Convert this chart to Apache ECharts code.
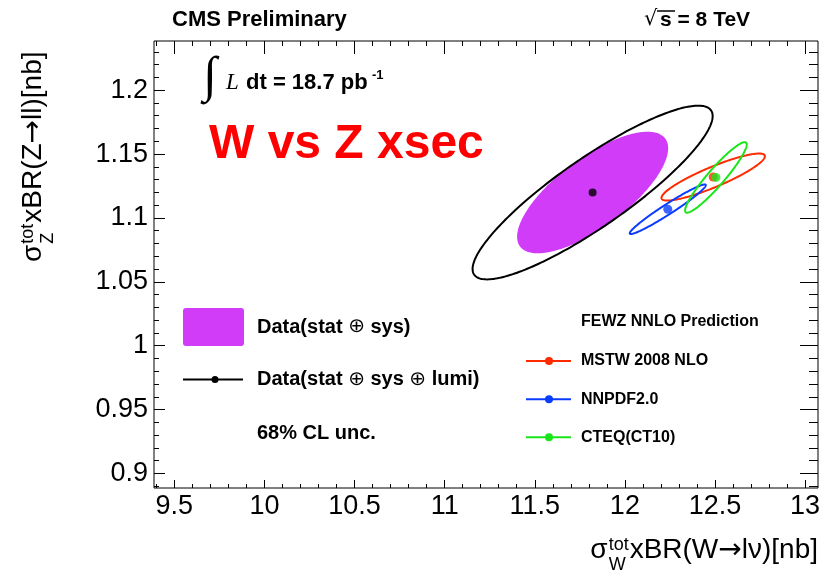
<!DOCTYPE html>
<html>
<head>
<meta charset="utf-8">
<script src="https://cdn.jsdelivr.net/npm/echarts@6/dist/echarts.min.js"></script>
<style>
  html, body { margin: 0; padding: 0; background: #ffffff; }
  #chart { width: 823px; height: 574px; }
</style>
</head>
<body>
<div id="chart"></div>
<script>
// ---- axis ranges and tick values -------------------------------------------
const xRange = [9.3874, 13.0715];
const yRange = [0.8886, 1.2385];
const xMajorTicks = [9.5, 10, 10.5, 11, 11.5, 12, 12.5, 13];
const yMajorTicks = [0.9, 0.95, 1, 1.05, 1.1, 1.15, 1.2];

// ---- measurement: sigma(W) x BR vs sigma(Z) x BR [nb] ------------------------
const dataCenter = [11.821, 1.1199];
// 68% CL contours as [half-width in sigma_W, half-height in sigma_Z, correlation]
const dataStatSys = [0.419, 0.0476, 0.727];
const dataStatSysLumi = [0.666, 0.068, 0.88];

// ---- FEWZ NNLO predictions ---------------------------------------------------
const predNames = ['MSTW 2008 NLO', 'NNPDF2.0', 'CTEQ(CT10)'];
const predCenters = [[12.49, 1.132], [12.238, 1.1068], [12.505, 1.1317]];
const predContours = [[0.287, 0.0184, 0.885], [0.211, 0.0194, 0.97], [0.171, 0.0276, 0.935]];

// ---- styling ------------------------------------------------------------------
const SANS = '"Liberation Sans", Arial, Helvetica, sans-serif';
const SERIF = '"Liberation Serif", "Times New Roman", serif';
const ARROW = '"DejaVu Sans", ' + SANS;
const PURPLE = '#d03cf8';
const predColors = ['#ff2a00', '#0a3cff', '#19e619'];

// minor ticks: every 0.1 on x, every 0.01 on y, skipping the major ones
const xMinorTicks = [];
for (let i = 94; i <= 130; i++) if (i % 5) xMinorTicks.push(i / 10);
const yMinorTicks = [];
for (let i = 89; i <= 123; i++) if (i % 5) yMinorTicks.push(i / 100);

// closed 68% CL contour for a correlated pair, in data coordinates
function contourPoints(center, p, n) {
  const sx = p[0], sy = p[1], rho = p[2];
  const k = Math.sqrt(1 - rho * rho);
  const pts = [];
  for (let i = 0; i < n; i++) {
    const t = 2 * Math.PI * i / n;
    pts.push([center[0] + sx * Math.cos(t),
              center[1] + sy * (rho * Math.cos(t) + k * Math.sin(t))]);
  }
  return pts;
}

function contourSeries(name, center, p, color, filled, z) {
  return {
    type: 'custom',
    name: name,
    z: z,
    silent: true,
    data: [center],
    renderItem: function (params, api) {
      const pts = contourPoints(center, p, 240).map(function (q) { return api.coord(q); });
      return {
        type: 'polygon',
        shape: { points: pts },
        style: filled ? { fill: color, stroke: null }
                      : { fill: 'none', stroke: color, lineWidth: 2 }
      };
    }
  };
}

function xAxisDef(position, ticks, len, withLabels) {
  return {
    type: 'value', position: position, min: xRange[0], max: xRange[1],
    axisLine: { show: false },
    splitLine: { show: false },
    axisTick: { show: true, inside: true, length: len, customValues: ticks,
                lineStyle: { color: '#000', width: 1 } },
    axisLabel: withLabels
      ? { show: true, customValues: ticks, color: '#000', fontSize: 27,
          fontFamily: SANS, margin: 5 }
      : { show: false }
  };
}

function yAxisDef(position, ticks, len, withLabels) {
  return {
    type: 'value', position: position, min: yRange[0], max: yRange[1],
    axisLine: { show: false },
    splitLine: { show: false },
    axisTick: { show: true, inside: true, length: len, customValues: ticks,
                lineStyle: { color: '#000', width: 1 } },
    axisLabel: withLabels
      ? { show: true, customValues: ticks, color: '#000', fontSize: 27,
          fontFamily: SANS, margin: 6, padding: [7, 0, 0, 0] }
      : { show: false }
  };
}

// ---- text helpers -------------------------------------------------------------
const measureCtx = document.createElement('canvas').getContext('2d');
function textWidth(str, font) { measureCtx.font = font; return measureCtx.measureText(str).width; }

function text(x, y, str, font, color, align) {
  return {
    type: 'text', x: x, y: y, silent: true,
    style: { text: str, font: font, fill: color || '#000',
             align: align || 'left', verticalAlign: 'middle' }
  };
}

// bold legend entry whose "⊕" signs are drawn in a light weight
function legendText(x, y, str, size) {
  const rich = str.split('\u2295').map(function (part) { return '{b|' + part + '}'; })
                  .join('{o|\u2295}');
  return {
    type: 'text', x: x, y: y, silent: true,
    style: {
      text: rich, verticalAlign: 'middle', align: 'left',
      rich: {
        b: { font: 'bold ' + size + 'px ' + SANS, fill: '#000' },
        o: { font: size + 'px "DejaVu Sans", ' + SANS, fill: '#000' }
      }
    }
  };
}

// sigma^{tot}_{V} x BR(V -> ...)[nb] laid out along a baseline at local y = 0
function crossSectionTitle(sub, pre, post) {
  const f = 28, fs = 18;
  const mainFont = f + 'px ' + SANS;
  const arrowFont = f + 'px ' + ARROW;
  const smallFont = fs + 'px ' + SANS;
  const wSigma = textWidth('σ', mainFont);
  const wScript = Math.max(textWidth('tot', smallFont), textWidth(sub, smallFont));
  const wPre = textWidth(pre, mainFont);
  const wArrow = textWidth('\u2192', arrowFont);
  const wPost = textWidth(post, mainFont);
  const mid = -0.34 * f;
  const x0 = wSigma + wScript + 2;
  return {
    width: x0 + wPre + wArrow + wPost,
    children: [
      text(0, mid, 'σ', mainFont),
      text(wSigma + 1, -15, 'tot', smallFont),
      text(wSigma + 1, 5, sub, smallFont),
      text(x0, mid, pre, mainFont),
      text(x0 + wPre, mid, '\u2192', arrowFont),
      text(x0 + wPre + wArrow, mid, post, mainFont)
    ]
  };
}

const xTitle = crossSectionTitle('W', 'xBR(W', 'l\u03bd)[nb]');
const yTitle = crossSectionTitle('Z', 'xBR(Z', 'll)[nb]');

const B = function (size) { return 'bold ' + size + 'px ' + SANS; };

const legendY = [361, 399.3, 437.3];
const graphics = [
  // header
  text(172, 20, 'CMS Preliminary', B(22)),
  text(644, 20, '\u221a', '21px "DejaVu Sans", ' + SANS),
  { type: 'line', silent: true, shape: { x1: 657, y1: 11, x2: 675, y2: 11 },
    style: { stroke: '#000', lineWidth: 1.5 } },
  text(660, 20, 's = 8 TeV', B(21)),
  // luminosity
  text(203, 78, '\u222b', '50px ' + SERIF),
  text(226, 83, 'L', 'italic 23px ' + SERIF),
  text(246, 83, 'dt = 18.7 pb', B(22)),
  text(372, 75, '-1', B(13)),
  // big red label
  text(209, 145, 'W vs Z xsec', B(48), '#ff0000'),
  // axis titles
  { type: 'group', x: 818 - xTitle.width, y: 560, children: xTitle.children },
  { type: 'group', x: 43, y: 262, rotation: Math.PI / 2, children: yTitle.children },
  // data legend
  { type: 'rect', silent: true, shape: { x: 183, y: 308, width: 61, height: 38, r: 3 },
    style: { fill: PURPLE } },
  legendText(257, 327, 'Data(stat \u2295 sys)', 20),
  { type: 'line', silent: true, shape: { x1: 183, y1: 379.5, x2: 243, y2: 379.5 },
    style: { stroke: '#000', lineWidth: 2 } },
  { type: 'circle', silent: true, shape: { cx: 215, cy: 379.5, r: 3.5 }, style: { fill: '#000' } },
  legendText(257, 379.5, 'Data(stat \u2295 sys \u2295 lumi)', 20),
  text(257, 433, '68% CL unc.', B(20)),
  // prediction legend
  text(581, 322, 'FEWZ NNLO Prediction', B(16))
];
predNames.forEach(function (name, i) {
  graphics.push(
    { type: 'line', silent: true, shape: { x1: 526, y1: legendY[i], x2: 571, y2: legendY[i] },
      style: { stroke: predColors[i], lineWidth: 2 } },
    { type: 'circle', silent: true, shape: { cx: 549, cy: legendY[i], r: 4 },
      style: { fill: predColors[i] } },
    text(581, legendY[i], name, B(16))
  );
});

// ---- series -------------------------------------------------------------------
const series = [
  contourSeries('Data(stat \u2295 sys)', dataCenter, dataStatSys, PURPLE, true, 2),
  contourSeries('Data(stat \u2295 sys \u2295 lumi)', dataCenter, dataStatSysLumi, '#000', false, 3),
  { type: 'scatter', z: 4, silent: true, symbol: 'circle', symbolSize: 8,
    itemStyle: { color: '#000' }, data: [dataCenter] }
];
predNames.forEach(function (name, i) {
  series.push(contourSeries(name, predCenters[i], predContours[i], predColors[i], false, 5));
});
predNames.forEach(function (name, i) {
  series.push({ type: 'scatter', z: 6, silent: true, symbol: 'circle', symbolSize: 9,
                itemStyle: { color: predColors[i] }, data: [predCenters[i]] });
});

const chart = echarts.init(document.getElementById('chart'), null, { renderer: 'canvas' });
chart.setOption({
  animation: false,
  backgroundColor: '#ffffff',
  grid: { left: 154, top: 41, right: 5, bottom: 86, show: true,
          borderColor: '#000', borderWidth: 1, backgroundColor: 'transparent',
          outerBoundsMode: 'none', containLabel: false },
  xAxis: [
    xAxisDef('bottom', xMajorTicks, 8, true),
    xAxisDef('bottom', xMinorTicks, 4, false),
    xAxisDef('top', xMajorTicks, 13, false),
    xAxisDef('top', xMinorTicks, 5, false)
  ],
  yAxis: [
    yAxisDef('left', yMajorTicks, 11, true),
    yAxisDef('left', yMinorTicks, 5, false),
    yAxisDef('right', yMajorTicks, 18, false),
    yAxisDef('right', yMinorTicks, 9, false)
  ],
  graphic: { elements: graphics },
  series: series
});
</script>
</body>
</html>
